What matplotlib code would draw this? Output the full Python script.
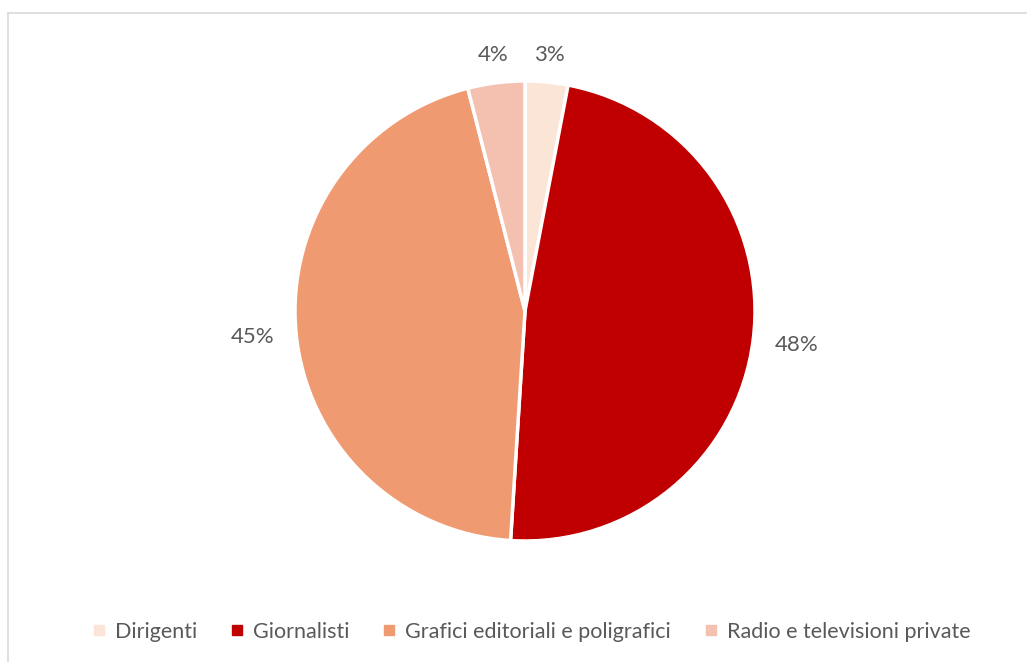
import matplotlib.pyplot as plt
import numpy as np
from matplotlib.lines import Line2D

plt.rcParams['font.family'] = ['Lato', 'DejaVu Sans']

labels = ['Dirigenti', 'Giornalisti', 'Grafici editoriali e poligrafici', 'Radio e televisioni private']
values = [3, 48, 45, 4]
colors = ['#FBE5D6', '#C00000', '#F09A72', '#F4C1B0']
txt = '#595959'

W, H = 1027, 662
fig = plt.figure(figsize=(W / 100, H / 100), dpi=100)

# pie centre (525, 311) px, radius 230 px
cx, cy, r = 525, 311, 230
ax = fig.add_axes([(cx - r) / W, (H - cy - r) / H, 2 * r / W, 2 * r / H])

wedges, _ = ax.pie(values, colors=colors, startangle=90, counterclock=False,
                   wedgeprops=dict(edgecolor='white', linewidth=2.5))
ax.set_xlim(-1, 1)
ax.set_ylim(-1, 1)

# outside percentage labels
for w, v in zip(wedges, values):
    ang = np.deg2rad((w.theta1 + w.theta2) / 2)
    d = 1.11 + 0.08 * abs(np.cos(ang))
    ax.text(d * np.cos(ang), d * np.sin(ang), f'{v}%', ha='center', va='center',
            fontsize=16, color=txt, clip_on=False)

# chart border (only top and left visible in crop)
fig.add_artist(Line2D([8 / W, 8 / W], [0, 1 - 13 / H], transform=fig.transFigure,
                      color='#D9D9D9', lw=1.2))
fig.add_artist(Line2D([8 / W, 1], [1 - 13 / H, 1 - 13 / H], transform=fig.transFigure,
                      color='#D9D9D9', lw=1.2))

handles = [Line2D([], [], marker='s', linestyle='none', markersize=7,
                  markerfacecolor=c, markeredgecolor=c) for c in colors]
fig.legend(handles, labels, loc='center', bbox_to_anchor=(532 / W, 1 - 632 / H),
           ncol=4, frameon=False, fontsize=15.5, labelcolor=txt,
           handlelength=0.5, handletextpad=0.5, columnspacing=1.6)

fig.savefig('out.png', dpi=100)
